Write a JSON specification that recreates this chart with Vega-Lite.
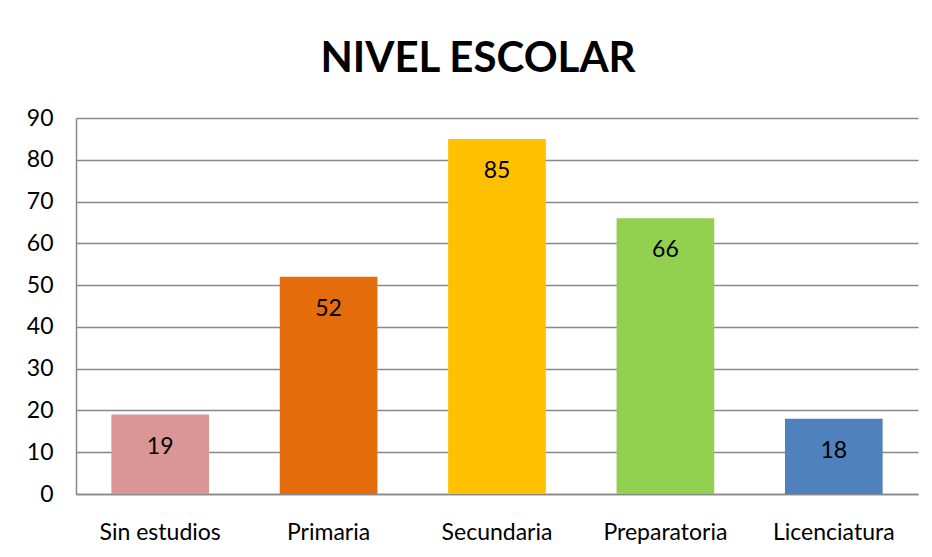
{
  "$schema": "https://vega.github.io/schema/vega-lite/v6.json",
  "width": 842,
  "height": 376,
  "autosize": {"type": "none"},
  "padding": {"left": 76, "top": 118, "right": 14, "bottom": 63},
  "background": "white",
  "title": {
    "text": "NIVEL ESCOLAR",
    "font": "Lato",
    "fontSize": 42,
    "fontWeight": "bold",
    "color": "#000000",
    "anchor": "middle",
    "dx": -19,
    "offset": 26
  },
  "config": {
    "view": {"stroke": null},
    "font": "Lato"
  },
  "data": {
    "values": [
      {"nivel": "Sin estudios", "valor": 19, "color": "#D99694"},
      {"nivel": "Primaria", "valor": 52, "color": "#E46C0A"},
      {"nivel": "Secundaria", "valor": 85, "color": "#FFC000"},
      {"nivel": "Preparatoria", "valor": 66, "color": "#92D050"},
      {"nivel": "Licenciatura", "valor": 18, "color": "#4F81BD"}
    ]
  },
  "encoding": {
    "x": {
      "field": "nivel",
      "type": "nominal",
      "sort": null,
      "scale": {"paddingInner": 0.42, "paddingOuter": 0.21},
      "axis": {
        "title": null,
        "labelAngle": 0,
        "labelFont": "Lato",
        "labelFontSize": 23,
        "labelColor": "#000000",
        "labelPadding": 27,
        "ticks": false,
        "domainColor": "#888888",
        "domainWidth": 1.5
      }
    },
    "y": {
      "field": "valor",
      "type": "quantitative",
      "scale": {"domain": [0, 90], "nice": false},
      "axis": {
        "title": null,
        "values": [0, 10, 20, 30, 40, 50, 60, 70, 80, 90],
        "labelFont": "Lato",
        "labelFontSize": 23,
        "labelColor": "#000000",
        "labelPadding": 23,
        "ticks": false,
        "gridColor": "#888888",
        "gridWidth": 1.5,
        "domainColor": "#888888",
        "domainWidth": 1.5
      }
    }
  },
  "layer": [
    {
      "mark": {"type": "bar"},
      "encoding": {
        "color": {"field": "color", "type": "nominal", "scale": null}
      }
    },
    {
      "mark": {"type": "text", "baseline": "middle", "dy": 32, "fontSize": 23, "font": "Lato", "color": "#000000"},
      "encoding": {
        "text": {"field": "valor", "type": "quantitative"}
      }
    }
  ]
}
